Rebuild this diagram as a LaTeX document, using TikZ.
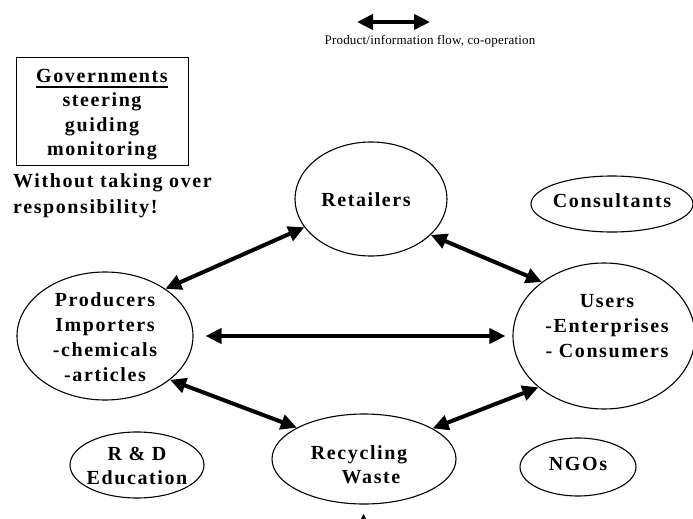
\documentclass[tikz,border=0pt]{standalone}
\usepackage{fontspec}
\setmainfont{Liberation Serif}
\newfontfamily\lblfont{Liberation Serif}[LetterSpace=8]
\newfontfamily\legfont{Liberation Serif}[LetterSpace=1.5]
\usetikzlibrary{arrows.meta,shapes.geometric}
\newcommand{\thickul}[1]{\setbox0\hbox{#1}\rlap{\raisebox{-6pt}{\rule{\wd0}{2.5pt}}}\box0}
\tikzset{
  oval/.style={ellipse, draw, line width=1.1pt, inner sep=0pt},
  lbl/.style={align=center, inner sep=0pt, font=\lblfont\fontsize{20}{25}\selectfont\bfseries},
  tip/.tip={Triangle[length=16pt,width=15pt]},
  flow/.style={line width=4pt, tip-tip},
  upflow/.style={line width=4pt, -tip},
}
\begin{document}
\begin{tikzpicture}[x=1pt,y=-1pt]
\useasboundingbox (0,0) rectangle (693,519);
\clip (0,0) rectangle (693,519);
% legend
\coordinate (lgA) at (357,22);
\coordinate (lgB) at (430,22);
\draw[flow] (lgA) -- (lgB);
\node[inner sep=0pt, anchor=base, font=\legfont\fontsize{13}{15}\selectfont] (lgT) at (430,45) {Product/information flow, co-operation};
% governments
\node[draw, line width=1pt, minimum width=172pt, minimum height=107pt, inner sep=0pt] (gov) at (102,111.5) {};
\node[lbl, font=\lblfont\fontsize{20}{24.5}\selectfont\bfseries] (govT) at (102,114.5) {\thickul{Governments}\\steering\\guiding\\monitoring};
\node[lbl, align=left, anchor=north west, font=\lblfont\fontsize{20}{26}\selectfont\bfseries] (resp) at (13,173) {Without taking over\\responsibility!};
% ellipses
\node[oval, minimum width=152pt, minimum height=114pt] (ret) at (371,199) {};
\node[oval, minimum width=162pt, minimum height=56pt] (cons) at (612,204) {};
\node[oval, minimum width=176pt, minimum height=128pt] (prod) at (105,336) {};
\node[oval, minimum width=182pt, minimum height=146pt] (users) at (604,336) {};
\node[oval, minimum width=184pt, minimum height=90pt] (rec) at (364,459) {};
\node[oval, minimum width=134pt, minimum height=66pt] (rd) at (137,465) {};
\node[oval, minimum width=116pt, minimum height=58pt] (ngo) at (578,467) {};
% texts
\node[lbl] (retT) at (366,200) {Retailers};
\node[lbl] (consT) at (612,201) {Consultants};
\node[lbl] (prodT) at (105,337.5) {Producers\\Importers\\-chemicals\\-articles};
\node[lbl] (usersT) at (607,326) {Users\\-Enterprises\\- Consumers};
\node[lbl, font=\lblfont\fontsize{20}{23.5}\selectfont\bfseries] (recT) at (359,464.5) {Recycling\\\hspace*{1.2em}Waste};
\node[lbl, font=\lblfont\fontsize{20}{23.5}\selectfont\bfseries] (rdT) at (137,466) {R \& D\\Education};
\node[lbl] (ngoT) at (578,464) {NGOs};
% connectors
\draw[flow] (prod.38) -- (ret.203);
\draw[flow] (ret.329) -- (users.139);
\draw[flow, shorten <=12pt, shorten >=7pt] (prod.0) -- (users.180);
\draw[flow] (prod.326) -- (rec.155);
\draw[flow] (users.218) -- (rec.24);
\coordinate (botS) at (362,560);
\draw[upflow, shorten >=9pt] (botS) -- (rec.south);
\end{tikzpicture}
\end{document}
